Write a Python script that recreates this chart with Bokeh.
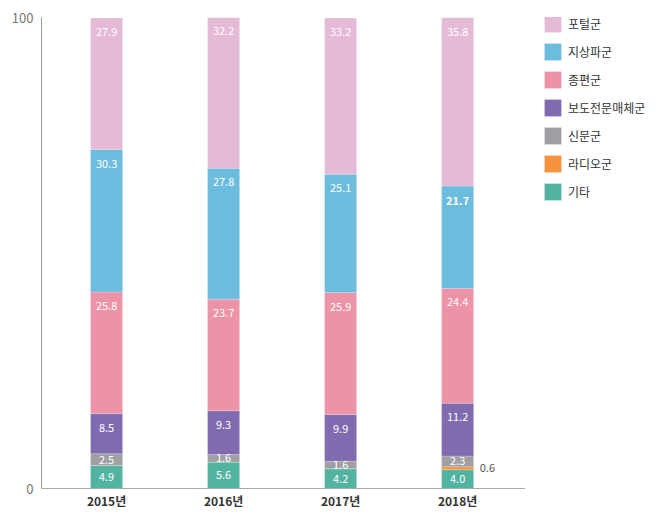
from bokeh.plotting import figure
from bokeh.layouts import row
from bokeh.models import ColumnDataSource, Range1d, Legend, LegendItem, FixedTicker
from bokeh.core.properties import value
from bokeh.embed import file_html
from bokeh.resources import INLINE

FONT = "Noto Sans CJK KR"

years = ["2015년", "2016년", "2017년", "2018년"]
# bottom -> top
groups = ["기타", "라디오군", "신문군", "보도전문매체군", "종편군", "지상파군", "포털군"]
etc = [4.9, 5.6, 4.2, 4.0]
radio = [0.0, 0.0, 0.0, 0.6]
newspaper = [2.5, 1.6, 1.6, 2.3]
news_channel = [8.5, 9.3, 9.9, 11.2]
jongpyeon = [25.8, 23.7, 25.9, 24.4]
terrestrial = [30.3, 27.8, 25.1, 21.7]
portal = [27.9, 32.2, 33.2, 35.8]
colors = ["#52b3a1", "#f7913e", "#a0a0a4", "#806bb0", "#ec93a8", "#6cbcdd", "#e5bad7"]

series = [etc, radio, newspaper, news_channel, jongpyeon, terrestrial, portal]
xs = list(range(len(years)))
data = {"x": xs}
for g, s in zip(groups, series):
    data[g] = s
source = ColumnDataSource(data)

p = figure(width=525, height=524, x_range=Range1d(-0.556, 3.58), y_range=Range1d(0, 100),
           output_backend="svg", toolbar_location=None,
           min_border_left=41, min_border_right=0, min_border_top=17, min_border_bottom=36)
p.outline_line_color = None
p.grid.visible = False

p.vbar_stack(groups, x="x", width=0.274, source=source, color=colors,
             line_color="white", line_width=0.4, line_alpha=0.5)

# value labels
lx, ly, lt, lw = [], [], [], []
ox, oy, ot = [], [], []
for i in xs:
    base = 0.0
    for g, s in zip(groups, series):
        v = s[i]
        top = base + v
        if v > 0:
            if g == "라디오군":
                ox.append(i + 0.19)
                oy.append(base + v / 2)
                ot.append(f"{v:.1f}")
            else:
                lx.append(i)
                ly.append(top - 3.0 if v >= 6 else base + v / 2)
                lt.append(f"{v:.1f}")
                lw.append("bold" if (g == "지상파군" and i == 3) else "normal")
        base = top

p.text(x=lx, y=ly, text=lt, text_font=value(FONT), text_font_size="11px",
       text_color="white", text_align="center", text_baseline="middle", text_font_style=lw)
p.text(x=ox, y=oy, text=ot, text_font=value(FONT), text_font_size="11px",
       text_color="#555555", text_align="left", text_baseline="middle")

p.xaxis.ticker = FixedTicker(ticks=xs)
p.xaxis.major_label_overrides = {i: y for i, y in zip(xs, years)}
p.xaxis.major_tick_line_color = None
p.xaxis.major_tick_out = 0
p.xaxis.minor_tick_line_color = None
p.xaxis.axis_line_color = "#aaaaaa"
p.xaxis.major_label_text_font = FONT
p.xaxis.major_label_text_font_size = "12px"
p.xaxis.major_label_text_font_style = "bold"
p.xaxis.major_label_text_color = "#333333"
p.xaxis.major_label_standoff = 3

p.yaxis.ticker = FixedTicker(ticks=[0, 100])
p.yaxis.major_tick_line_color = None
p.yaxis.major_tick_out = 0
p.yaxis.minor_tick_line_color = None
p.yaxis.axis_line_color = "#999999"
p.yaxis.major_label_text_font = FONT
p.yaxis.major_label_text_font_size = "13px"
p.yaxis.major_label_text_color = "#777777"
p.yaxis.major_label_standoff = 8

# legend lives in its own narrow figure on the right
lg = figure(width=145, height=524, x_axis_type=None, y_axis_type=None,
            x_range=Range1d(0, 1), y_range=Range1d(0, 1),
            output_backend="svg", toolbar_location=None,
            min_border_left=0, min_border_right=0, min_border_top=0, min_border_bottom=0)
lg.outline_line_color = None
lg.grid.visible = False
items = []
for g, c in zip(groups, colors):
    # zero-size placeholder, only the legend swatch shows
    r = lg.vbar(x=[0.5], top=[0.5], bottom=[0.5], width=0, fill_color=c, line_color=None)
    items.append(LegendItem(label=g, renderers=[r]))
legend = Legend(items=items[::-1], location=(17, 286), glyph_width=21, glyph_height=21,
                label_height=21, label_standoff=5, spacing=7, margin=0, padding=0,
                label_text_font=FONT, label_text_font_size="12px", label_text_color="#333333",
                border_line_color=None, background_fill_alpha=0)
lg.add_layout(legend)

layout = row(p, lg)
open("out.html", "w").write(file_html(layout, INLINE))
